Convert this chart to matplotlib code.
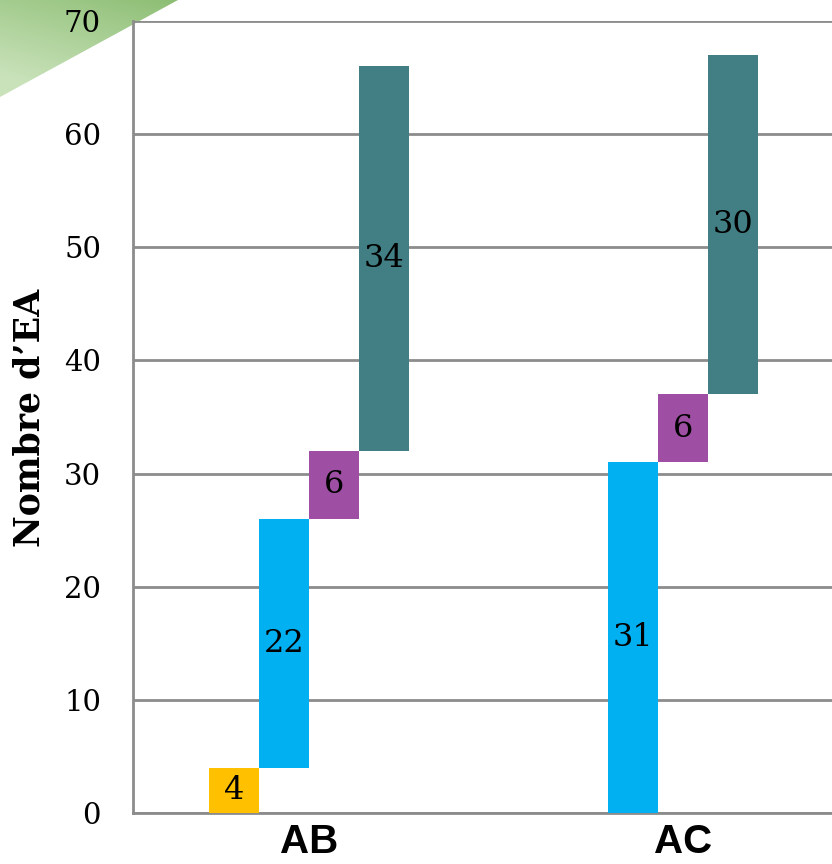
import matplotlib
matplotlib.use("Agg")
import matplotlib.pyplot as plt
import numpy as np
from matplotlib.patches import Polygon
from matplotlib.colors import LinearSegmentedColormap

# Data
categories = ["AB", "AC"]
series_colors = ["#FFC000", "#00B0F0", "#9E4FA3", "#417F85"]
values_ab = [4, 22, 6, 34]
values_ac = [None, 31, 6, 30]
yticks = [0, 10, 20, 30, 40, 50, 60, 70]

fig = plt.figure(figsize=(8.32, 8.64), dpi=100)
W, H = 832, 864
ax = fig.add_axes([133 / W, (864 - 813) / H, (832 - 133) / W, (813 - 21) / H])

cat_centers = [3.52, 11.0]
bar_w = 1.0

for center, vals in zip(cat_centers, [values_ab, values_ac]):
    present = [(v, c) for v, c in zip(vals, series_colors) if v is not None]
    n = len(present)
    offsets = np.arange(n) - (n - 1) / 2
    bottom = 0
    for off, (v, c) in zip(offsets, present):
        ax.bar(center + off, v, width=bar_w, bottom=bottom, color=c,
               zorder=3, linewidth=0)
        ax.text(center + off, bottom + v / 2, str(v), ha="center", va="center",
                fontsize=23, family="DejaVu Serif", color="black", zorder=4)
        bottom += v

ax.set_xlim(0, 13.98)
ax.set_ylim(0, 70)
ax.set_yticks(yticks)
ax.set_yticklabels([str(t) for t in yticks], family="DejaVu Serif", fontsize=21)
ax.tick_params(axis="y", length=0, pad=23)
ax.set_xticks(cat_centers)
ax.set_xticklabels(categories, fontsize=29, fontweight="bold",
                   family="Liberation Sans")
ax.tick_params(axis="x", length=0, pad=7)

ax.yaxis.grid(True, color="#8C8C8C", linewidth=2, zorder=0)
ax.set_axisbelow(True)
for side in ["top", "right"]:
    ax.spines[side].set_visible(False)
for side in ["left", "bottom"]:
    ax.spines[side].set_color("#8C8C8C")
    ax.spines[side].set_linewidth(2)

fig.text(30 / W, 1 - 418 / H, "Nombre d\u2019EA", rotation=90, ha="center",
         va="center", fontsize=25, fontweight="bold", family="DejaVu Serif")

# Green corner decoration with a soft gradient
deco = fig.add_axes([0, 0, 1, 1], zorder=-1)
deco.set_xlim(0, W)
deco.set_ylim(H, 0)
deco.axis("off")
xx, yy = np.meshgrid(np.linspace(0, 1, 200), np.linspace(0, 1, 120))
grad = np.clip(yy * 0.8 + (1 - xx) * 0.4, 0, 1)
cmap = LinearSegmentedColormap.from_list("g", ["#8DBE74", "#C9E2BA"])
im = deco.imshow(grad, extent=[0, 180, 100, 0], cmap=cmap, aspect="auto")
tri = Polygon([[0, 0], [178, 0], [0, 97]], closed=True, transform=deco.transData,
              facecolor="none", edgecolor="none")
deco.add_patch(tri)
im.set_clip_path(tri)
ax.set_zorder(1)
ax.patch.set_alpha(0)

fig.savefig("out.png", dpi=100)
